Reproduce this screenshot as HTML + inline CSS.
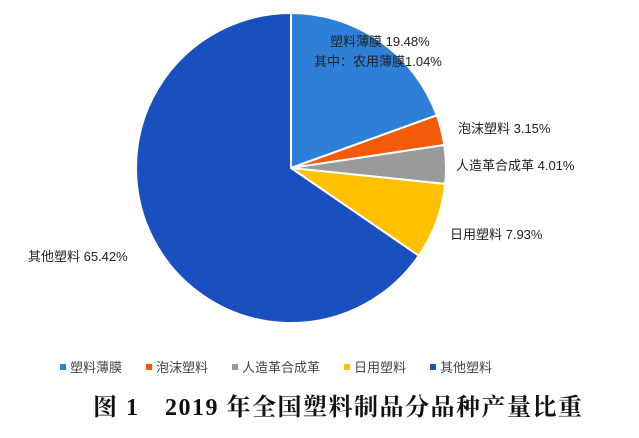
<!DOCTYPE html>
<html><head><meta charset="utf-8"><style>
body{margin:0;background:#fff;width:639px;height:438px;overflow:hidden;font-family:"Liberation Sans","Noto Sans CJK SC",sans-serif}
</style></head><body>
<svg id="s" width="639" height="438" xmlns="http://www.w3.org/2000/svg" style="position:absolute;left:0;top:0">
<g id="pie"></g>
<g font-family="Liberation Sans, Noto Sans CJK SC, sans-serif" font-size="13" fill="#222">
<text x="330" y="46">塑料薄膜 19.48%</text>
<text x="314" y="66">其中：农用薄膜1.04%</text>
<text x="458" y="133">泡沫塑料 3.15%</text>
<text x="456" y="170">人造革合成革 4.01%</text>
<text x="450" y="239">日用塑料 7.93%</text>
<text x="28" y="261">其他塑料 65.42%</text>
</g>
<g font-family="Liberation Sans, Noto Sans CJK SC, sans-serif" font-size="13" fill="#444">
<rect x="60" y="364" width="6" height="6" fill="#2e7fd8"/><text x="70" y="372">塑料薄膜</text>
<rect x="146" y="364" width="6" height="6" fill="#f55a0a"/><text x="156" y="372">泡沫塑料</text>
<rect x="232" y="364" width="6" height="6" fill="#9a9a9a"/><text x="242" y="372">人造革合成革</text>
<rect x="344" y="364" width="6" height="6" fill="#ffc000"/><text x="354" y="372">日用塑料</text>
<rect x="430" y="364" width="6" height="6" fill="#1a4fc0"/><text x="440" y="372">其他塑料</text>
</g>
<text x="93" y="415" font-family="Liberation Serif, Noto Serif CJK SC, serif" font-size="24" font-weight="bold" letter-spacing="1.5" fill="#111">图 1　2019 年全国塑料制品分品种产量比重</text>
</svg>
<script>
var cx=291,cy=168,r=155,d=[19.48,3.15,4.01,7.93,65.43],c=["#2e7fd8","#f55a0a","#9a9a9a","#ffc000","#1a4fc0"],a=0,g=document.getElementById("pie"),h="";
function p(t){return [cx+r*Math.sin(t),cy-r*Math.cos(t)]}
for(var i=0;i<d.length;i++){var t0=a/100*2*Math.PI;a+=d[i];var t1=a/100*2*Math.PI;var s=p(t0),e=p(t1);
h+='<path d="M'+cx+','+cy+' L'+s[0]+','+s[1]+' A'+r+','+r+' 0 '+(d[i]>50?1:0)+' 1 '+e[0]+','+e[1]+' Z" fill="'+c[i]+'" stroke="#fff" stroke-width="2"/>';}
g.innerHTML=h;
</script>
</body></html>
